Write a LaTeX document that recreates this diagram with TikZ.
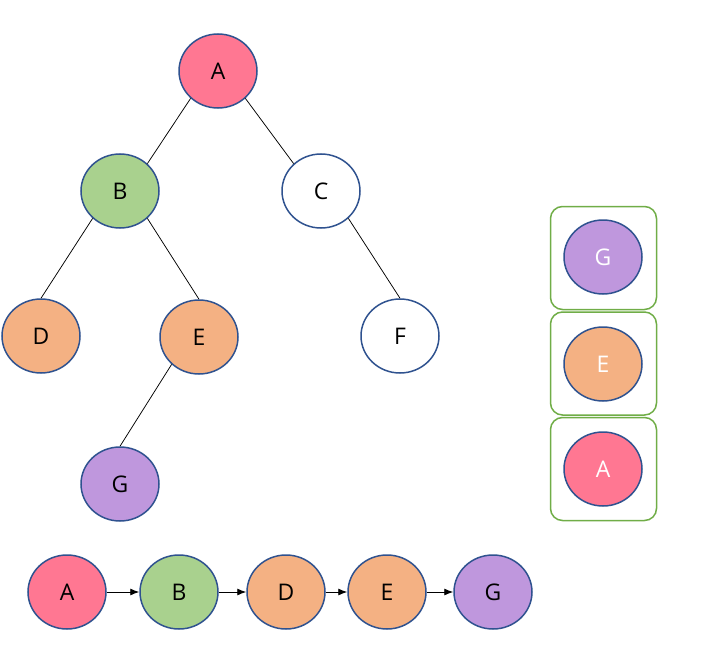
\documentclass[tikz,border=0pt]{standalone}
\usepackage{fontspec}
\setmainfont{Open Sans}
\usetikzlibrary{shapes.geometric,arrows.meta}
\definecolor{cpink}{HTML}{FF7792}
\definecolor{cgreen}{HTML}{A9D18E}
\definecolor{corange}{HTML}{F4B183}
\definecolor{cpurple}{HTML}{BF97DD}
\definecolor{cstroke}{HTML}{2F528F}
\definecolor{cbox}{HTML}{70AD47}
\tikzset{
  tn/.style={ellipse, draw=cstroke, line width=1.5bp, minimum width=78bp, minimum height=74bp, inner sep=0pt, font=\fontsize{23}{26}\selectfont},
  wt/.style={text=white},
  edge/.style={line width=0.75bp, black},
  arr/.style={line width=0.9bp, black, -{Latex[length=9bp,width=7bp]}},
  stackbox/.style={draw=cbox, line width=1.5bp, rounded corners=12bp, minimum width=106bp, minimum height=103bp, inner sep=0pt}
}
\begin{document}
\begin{tikzpicture}[x=1bp,y=-1bp]
\useasboundingbox (0,0) rectangle (707,656);
% tree
\node[tn, fill=cpink] (A) at (218,71) {A};
\node[tn, fill=cgreen] (B) at (120,191) {B};
\node[tn, fill=white] (C) at (321,191) {C};
\node[tn, fill=corange] (D) at (41,336) {D};
\node[tn, fill=corange] (E) at (199,337) {E};
\node[tn, fill=white] (F) at (400,336) {F};
\node[tn, fill=cpurple] (G) at (120,484) {G};
\draw[edge] (A.225) -- (B.45);
\draw[edge] (A.315) -- (C.135);
\draw[edge] (B.225) -- (D.north);
\draw[edge] (B.315) -- (E.north);
\draw[edge] (C.315) -- (F.north);
\draw[edge] (E.225) -- (G.north);
% stack
\node[stackbox] (s1) at (603.5,258) {};
\node[stackbox] (s2) at (603.5,363.5) {};
\node[stackbox] (s3) at (603.5,469) {};
\node[tn, fill=cpurple, wt] (SG) at (603,257) {G};
\node[tn, fill=corange, wt] (SE) at (603,364) {E};
\node[tn, fill=cpink, wt] (SA) at (603,469) {A};
% sequence
\node[tn, fill=cpink] (qA) at (67,592) {A};
\node[tn, fill=cgreen] (qB) at (179,592) {B};
\node[tn, fill=corange] (qD) at (286,592) {D};
\node[tn, fill=corange] (qE) at (387,592) {E};
\node[tn, fill=cpurple] (qG) at (493,592) {G};
\draw[arr] (qA) -- (qB);
\draw[arr] (qB) -- (qD);
\draw[arr] (qD) -- (qE);
\draw[arr] (qE) -- (qG);
\end{tikzpicture}
\end{document}
